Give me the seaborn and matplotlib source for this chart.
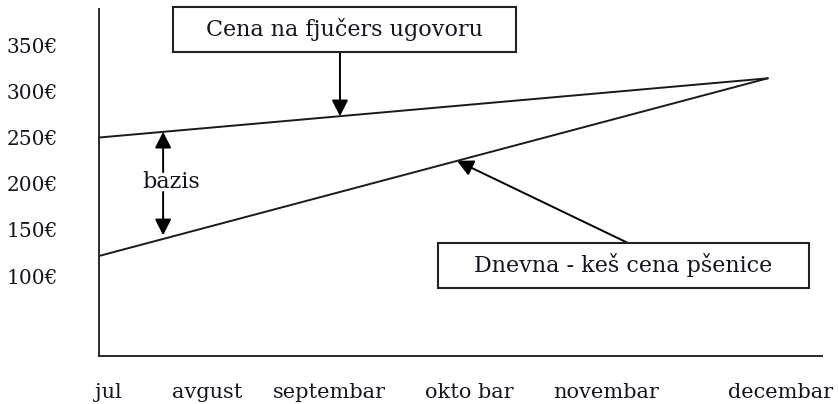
import numpy as np
import pandas as pd
import matplotlib
matplotlib.use("Agg")
import matplotlib.pyplot as plt
from matplotlib.patches import Rectangle
import seaborn as sns

# ---- data ----
months = ["jul", "avgust", "septembar", "okto bar", "novembar", "decembar"]
time_points = [0.0, 92.5]                 # start (jul) and convergence point (decembar)
futures_price = [250, 314]                # Cena na fjučers ugovoru
cash_price = [122, 314]                   # Dnevna - keš cena pšenice
y_ticks = [100, 150, 200, 250, 300, 350]
y_tick_labels = ["100€", "150€", "200€", "250€", "300€", "350€"]
futures_label = "Cena na fjučers ugovoru"
cash_label = "Dnevna - keš cena pšenice"
basis_label = "bazis"

# ---- layout ----
month_tick_pos = [1.3, 14.9, 31.8, 51.2, 70.1, 94.2]

sns.set_style("white")
plt.rcParams["font.family"] = ["DejaVu Serif", "DejaVu Sans"]
TXT = "#141420"

df = pd.concat([
    pd.DataFrame({"t": time_points, "cena": futures_price, "serija": futures_label}),
    pd.DataFrame({"t": time_points, "cena": cash_price, "serija": cash_label}),
])

fig = plt.figure(figsize=(8.39, 4.04), dpi=100)
ax = fig.add_axes([99.3 / 839, (404 - 355.7) / 404, 722.7 / 839, 346.4 / 404])

sns.lineplot(data=df, x="t", y="cena", hue="serija", palette=["#1a1a1a", "#1a1a1a"],
             linewidth=1.4, legend=False, ax=ax)

ax.set_xlim(0, 100)
ax.set_ylim(14.1, 388.6)
ax.set_xlabel("")
ax.set_ylabel("")

for s in ["top", "right"]:
    ax.spines[s].set_visible(False)
for s in ["left", "bottom"]:
    ax.spines[s].set_color("#2a2a2a")
    ax.spines[s].set_linewidth(1.4)

ax.set_yticks(y_ticks)
ax.set_yticklabels(y_tick_labels, fontsize=14.5, color=TXT)
ax.set_xticks(month_tick_pos)
ax.set_xticklabels(months, fontsize=15, color=TXT)
ax.tick_params(axis="y", length=0, pad=30)
ax.tick_params(axis="x", length=0, pad=20)

def on_line(vals, x):
    return float(np.interp(x, time_points, vals))

arrow = dict(arrowstyle="-|>,head_length=0.65,head_width=0.33", color="black",
             lw=1.4, mutation_scale=15, shrinkA=0, shrinkB=0)

# boxes (axes fraction)
ax.add_patch(Rectangle((0.102, 0.8767), 0.4746, 0.1299, transform=ax.transAxes,
                       fill=True, facecolor="white", edgecolor="#222222", lw=1.5, clip_on=False, zorder=5))
ax.text(0.339, 0.942, futures_label, transform=ax.transAxes, ha="center", va="center",
        fontsize=16, color=TXT, zorder=6)
ax.add_patch(Rectangle((0.4687, 0.1954), 0.5137, 0.1299, transform=ax.transAxes,
                       fill=True, facecolor="white", edgecolor="#222222", lw=1.5, clip_on=False, zorder=5))
ax.text(0.7255, 0.2604, cash_label, transform=ax.transAxes, ha="center", va="center",
        fontsize=16, color=TXT, zorder=6)

# arrows to lines
xf = 33.3
ax.annotate("", xy=(xf, on_line(futures_price, xf)), xycoords="data",
            xytext=(xf / 100, 0.8767), textcoords="axes fraction", arrowprops=arrow)
xc = 49.5
ax.annotate("", xy=(xc, on_line(cash_price, xc)), xycoords="data",
            xytext=(0.7316, 0.3253), textcoords="axes fraction", arrowprops=arrow)

# basis
xb = 8.83
ax.annotate("", xy=(xb, on_line(futures_price, xb)), xycoords="data",
            xytext=(xb / 100, 0.530), textcoords="axes fraction", arrowprops=arrow)
ax.annotate("", xy=(xb, on_line(cash_price, xb) + 4), xycoords="data",
            xytext=(xb / 100, 0.4726), textcoords="axes fraction", arrowprops=arrow)
ax.text(0.1, 0.5008, basis_label, transform=ax.transAxes, ha="center", va="center",
        fontsize=16, color=TXT)

fig.savefig("out.png", dpi=100)
